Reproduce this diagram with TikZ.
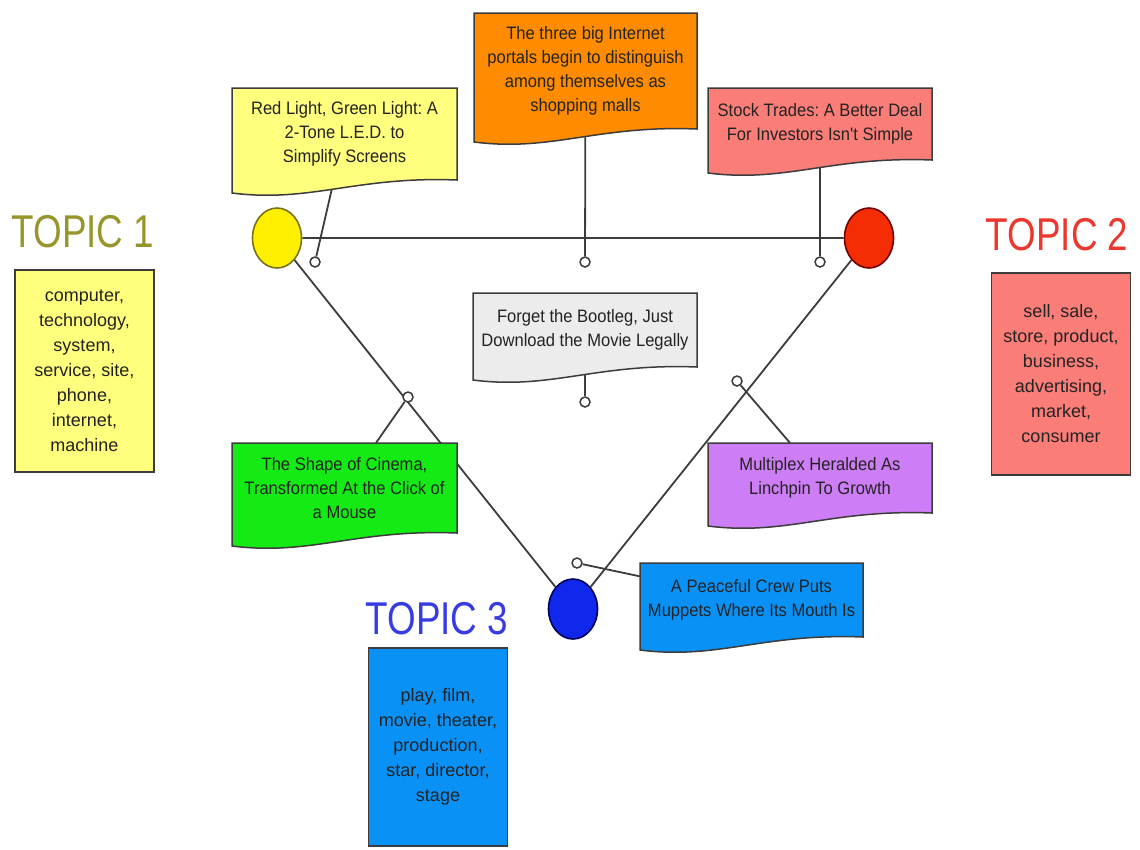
\documentclass[tikz,border=0pt]{standalone}
\usepackage{fontspec}
\setmainfont{Liberation Sans}
\newfontfamily\docfont[FakeStretch=0.92]{Liberation Sans}
\newfontfamily\topicfont[FakeStretch=0.8]{Liberation Sans}
\usetikzlibrary{shapes.geometric,backgrounds}
\frenchspacing

\definecolor{linegrey}{RGB}{60,60,60}
\definecolor{textgrey}{RGB}{35,35,35}
\definecolor{topicolive}{RGB}{150,150,45}
\definecolor{topicred}{RGB}{235,55,45}
\definecolor{topicblue}{RGB}{55,60,225}
\definecolor{paleyellow}{RGB}{255,255,125}
\definecolor{docorange}{RGB}{255,140,0}
\definecolor{salmon}{RGB}{250,125,120}
\definecolor{palegrey}{RGB}{236,236,236}
\definecolor{docgreen}{RGB}{20,235,20}
\definecolor{docviolet}{RGB}{205,125,245}
\definecolor{docblue}{RGB}{10,145,245}
\definecolor{circyellow}{RGB}{255,240,0}
\definecolor{circred}{RGB}{245,45,5}
\definecolor{circblue}{RGB}{15,40,235}

\tikzset{
  link/.style={draw=linegrey, line width=1.8pt},
  docline/.style={draw=linegrey, line width=1.5pt},
  doctext/.style={align=center, inner sep=0pt, text=textgrey, font=\docfont\fontsize{18}{24}\selectfont},
  docpin/.style={circle, draw=linegrey, fill=white, line width=1.5pt, minimum size=10pt, inner sep=0pt},
  topicnode/.style={ellipse, line width=1.6pt, minimum width=49pt, minimum height=60pt, inner sep=0pt},
  topiclabel/.style={font=\topicfont\fontsize{46}{50}\selectfont},
  topicbox/.style={draw=linegrey, line width=1.5pt, minimum width=139pt, minimum height=202pt,
    align=center, text=textgrey, font=\fontsize{18}{25}\selectfont}
}

% document box with a wavy bottom: name, x, y, width, height, colour, text
\newcommand{\docbox}[7]{%
  \filldraw[docline, fill=#6] (#2,#3) -- (#2+#4,#3) -- (#2+#4,#3+#5)
    .. controls (#2+0.55*#4,#3+#5-4) and (#2+0.35*#4,#3+#5+23) .. (#2,#3+#5+13) -- cycle;
  \node[doctext, minimum width=#4pt, minimum height=#5pt] (#1) at (#2+#4/2,#3+#5/2) {#7};
}

\begin{document}
\begin{tikzpicture}[x=1pt, y=-1pt]
\useasboundingbox (0,0) rectangle (1140,849);

% the three topics
\node[topicnode, fill=circyellow, draw=olive!80!black] (Y) at (277,238) {};
\node[topicnode, fill=circred, draw=red!45!black] (R) at (869,238) {};
\node[topicnode, fill=circblue, draw=blue!35!black] (B) at (573,609) {};

\node[topiclabel, text=topicolive] (t1) at (83,232) {TOPIC 1};
\node[topiclabel, text=topicred] (t2) at (1057,235) {TOPIC 2};
\node[topiclabel, text=topicblue] (t3) at (437,619) {TOPIC 3};

\node[topicbox, fill=paleyellow] (w1) at (84.5,371) {computer,\\technology,\\system,\\service, site,\\phone,\\internet,\\machine};
\node[topicbox, fill=salmon] (w2) at (1061,374) {sell, sale,\\store, product,\\business,\\advertising,\\market,\\consumer};
\node[topicbox, fill=docblue, minimum height=198pt] (w3) at (438,747) {play, film,\\movie, theater,\\production,\\star, director,\\stage};

% documents
\docbox{dYel}{232}{88}{225}{92}{paleyellow}{Red Light, Green Light: A\\2-Tone L.E.D. to\\Simplify Screens}
\docbox{dOra}{474}{13}{223}{116}{docorange}{The three big Internet\\portals begin to distinguish\\among themselves as\\shopping malls}
\docbox{dPnk}{708}{88}{224}{72}{salmon}{Stock Trades: A Better Deal\\For Investors Isn't Simple}
\docbox{dGry}{473}{293}{224}{74}{palegrey}{Forget the Bootleg, Just\\Download the Movie Legally}
\docbox{dGrn}{232}{443}{225}{90}{docgreen}{The Shape of Cinema,\\Transformed At the Click of\\a Mouse}
\docbox{dPur}{708}{443}{224}{70}{docviolet}{Multiplex Heralded As\\Linchpin To Growth}
\docbox{dBlu}{640}{563}{223}{74}{docblue}{A Peaceful Crew Puts\\Muppets Where Its Mouth Is}

% where each document sits between the topics
\foreach \name/\px/\py in {p1/315/262, p2/585/262, p3/820/262, p4/585/402, p5/408/397, p6/737/381, p7/577/563}
  \node[docpin] (\name) at (\px,\py) {};

\begin{scope}[on background layer]
\draw[link] (Y) -- (R) (Y) -- (B) (R) -- (B);
\foreach \d/\p in {dYel/p1, dOra/p2, dPnk/p3, dGry/p4, dGrn/p5, dPur/p6, dBlu/p7}
  \draw[link] (\d) -- (\p);
\end{scope}

\end{tikzpicture}
\end{document}
